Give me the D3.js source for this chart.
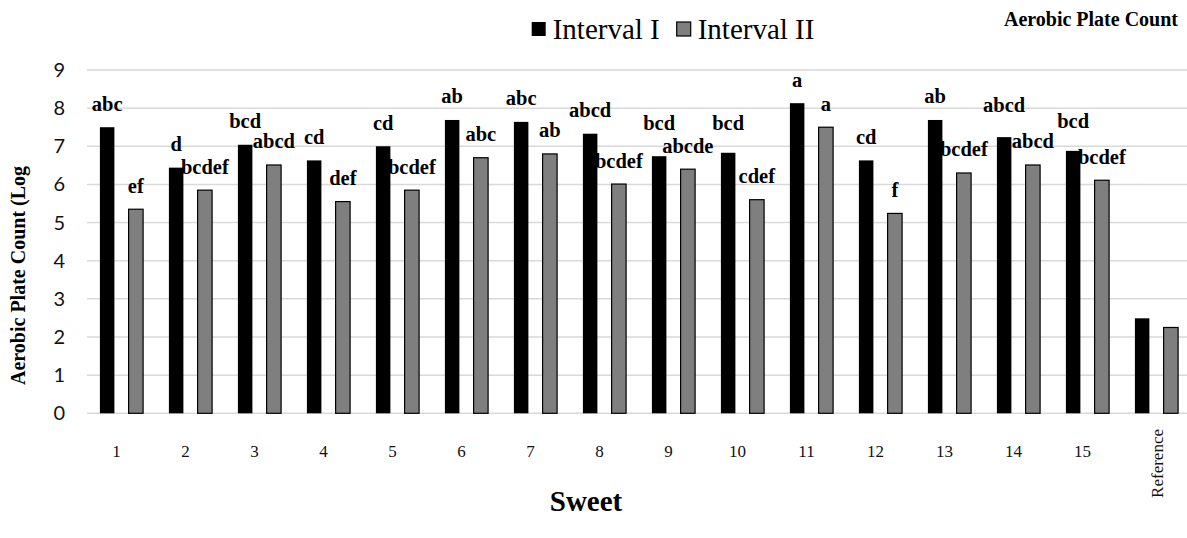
<!DOCTYPE html>
<html><head><meta charset="utf-8">
<script src="https://cdn.jsdelivr.net/npm/d3@7"></script>
<style>html,body{margin:0;padding:0;background:#fff;overflow:hidden}</style>
</head><body>
<svg id="c" width="1187" height="538"></svg>
<script>
const categories = ["1","2","3","4","5","6","7","8","9","10","11","12","13","14","15","Reference"];
const seriesNames = ["Interval I","Interval II"];
const interval1 = [7.5,6.44,7.04,6.63,7.0,7.69,7.64,7.33,6.74,6.83,8.13,6.63,7.69,7.24,6.88,2.49];
const interval2 = [5.35,5.85,6.51,5.55,5.85,6.7,6.8,6.01,6.4,5.6,7.5,5.24,6.3,6.51,6.11,2.25];
const labels1 = ["abc","d","bcd","cd","cd","ab","abc","abcd","bcd","bcd","a","cd","ab","abcd","bcd",""];
const labels2 = ["ef","bcdef","abcd","def","bcdef","abc","ab","bcdef","abcde","cdef","a","f","bcdef","abcd","bcdef",""];
const yTicks = [0,1,2,3,4,5,6,7,8,9];

(function(){
const svg = d3.select("#c");
const W = 1187;
const pLeft = 87, pRight = 1191, pTop = 70, pBottom = 413.3;
// manual label lifts (px) for Interval I labels that sit higher in the original
const lift1 = {"9": 10, "10": 6, "14": 9, "15": 6};

const x0 = d3.scaleBand().domain(categories).range([pLeft, pRight]).paddingInner(0.374).paddingOuter(0.187);
const x1 = d3.scaleBand().domain([0,1]).range([0, x0.bandwidth()]).paddingInner(0.495).paddingOuter(0);
const y = d3.scaleLinear().domain([0,9]).range([pBottom, pTop]);

svg.append("g").selectAll("line").data(yTicks).join("line")
  .attr("x1", pLeft).attr("x2", W)
  .attr("y1", d => y(d)).attr("y2", d => y(d))
  .attr("stroke", "#d9d9d9").attr("stroke-width", 1.5);

svg.append("g").selectAll("text").data(yTicks).join("text")
  .attr("x", 65).attr("y", d => y(d)).attr("dy", "0.35em")
  .attr("text-anchor", "end")
  .attr("font-family", "Lato, 'Open Sans', sans-serif").attr("font-size", 20)
  .attr("fill", "#111").text(d => d);

const data = categories.map((c,i) => ({c, v:[interval1[i], interval2[i]], l:[labels1[i], labels2[i]]}));
const colors = ["#000000", "#7f7f7f"];

const g = svg.append("g").selectAll("g").data(data).join("g")
  .attr("transform", d => `translate(${x0(d.c)},0)`);

g.selectAll("rect").data(d => d.v.map((v,k) => ({v,k}))).join("rect")
  .attr("x", d => x1(d.k)).attr("width", x1.bandwidth())
  .attr("y", d => y(d.v)).attr("height", d => y(0) - y(d.v))
  .attr("fill", d => colors[d.k])
  .attr("stroke", d => d.k === 1 ? "#000" : "none")
  .attr("stroke-width", 1.2);

g.selectAll("text.lab").data(d => d.v.map((v,k) => ({v,k,t:d.l[k],c:d.c}))).join("text")
  .attr("class","lab")
  .attr("x", d => x1(d.k) + x1.bandwidth()/2)
  .attr("y", d => y(d.v) - 16.5 - (d.k === 0 ? (lift1[d.c] || 0) : 0))
  .attr("text-anchor", "middle")
  .attr("font-family", "'Liberation Serif', 'Times New Roman', serif")
  .attr("font-weight", "bold").attr("font-size", 20.5)
  .attr("fill", "#000").text(d => d.t);

svg.append("g").selectAll("text").data(categories).join("text")
  .each(function(d){
    const t = d3.select(this);
    const cx = x0(d) + x0.bandwidth()/2;
    t.attr("font-family", "'Liberation Serif', 'Times New Roman', serif")
     .attr("font-size", 17).attr("fill", "#111").text(d);
    if (d === "Reference") {
      t.attr("text-anchor", "end")
       .attr("transform", `translate(${cx + 6},429) rotate(-90)`);
    } else {
      t.attr("text-anchor", "middle").attr("x", cx - 5).attr("y", 457);
    }
  });

svg.append("text").attr("x", 586).attr("y", 511).attr("text-anchor", "middle")
  .attr("font-family", "'Liberation Serif', 'Times New Roman', serif")
  .attr("font-weight", "bold").attr("font-size", 29).attr("fill", "#000").text("Sweet");

svg.append("text").attr("transform", "translate(25,385) rotate(-90)")
  .attr("text-anchor", "start")
  .attr("font-family", "'Liberation Serif', 'Times New Roman', serif")
  .attr("font-weight", "bold").attr("font-size", 20).attr("fill", "#000")
  .text("Aerobic Plate Count (Log");

svg.append("text").attr("x", 1178).attr("y", 26).attr("text-anchor", "end")
  .attr("font-family", "'Liberation Serif', 'Times New Roman', serif")
  .attr("font-weight", "bold").attr("font-size", 20).attr("fill", "#000")
  .text("Aerobic Plate Count");

const legX = [531.7, 676.7];
const leg = svg.append("g").selectAll("g").data(seriesNames).join("g")
  .attr("transform", (d,i) => `translate(${legX[i]},22)`);
leg.append("rect").attr("width", 14).attr("height", 14)
  .attr("fill", (d,i) => colors[i])
  .attr("stroke", (d,i) => i === 1 ? "#000" : "none").attr("stroke-width", 1.2);
leg.append("text").attr("x", 21).attr("y", 17)
  .attr("font-family", "'Liberation Serif', 'Times New Roman', serif")
  .attr("font-size", 29).attr("fill", "#000").text(d => d);
})();
</script>
</body></html>
